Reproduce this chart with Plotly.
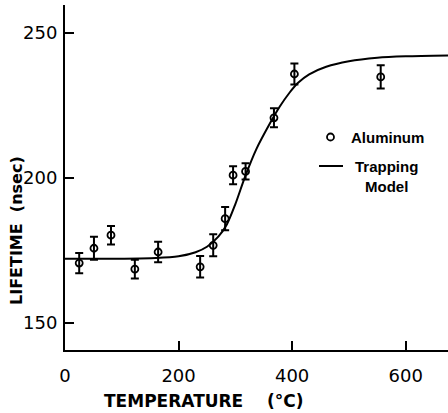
import plotly.graph_objects as go

# Measured data (Aluminum)
temp_c = [25, 51, 81, 123, 164, 238, 261, 282, 296, 318, 368, 404, 556]
lifetime_ns = [170.7, 175.8, 180.3, 168.6, 174.5, 169.4, 176.8, 186.0, 201.0, 202.3, 220.8, 235.9, 234.9]
lifetime_err = [3.5, 4.0, 3.2, 3.2, 3.5, 3.7, 3.8, 4.0, 3.1, 2.8, 3.3, 3.6, 4.0]

# Trapping model curve
model_t = [0, 100, 160, 200, 230, 250, 270, 285, 300, 317, 337, 361, 378, 396, 410, 430, 460, 500, 550, 600, 675]
model_l = [172.2, 172.2, 172.4, 173.0, 174.4, 176.3, 179.8, 184.0, 191.0, 200.4, 210.0, 218.9, 224.6, 229.6,
           232.8, 235.8, 238.4, 240.3, 241.5, 242.0, 242.3]

x_ticks = [0, 200, 400, 600]
y_ticks = [150, 200, 250]

fig = go.Figure()
fig.add_trace(go.Scatter(
    x=model_t, y=model_l, mode="lines",
    line=dict(color="black", width=2, shape="spline", smoothing=0.8),
    showlegend=False, hoverinfo="skip"))
fig.add_trace(go.Scatter(
    x=temp_c, y=lifetime_ns, mode="markers",
    marker=dict(symbol="circle-open", size=7, color="black", line=dict(width=1.8)),
    error_y=dict(type="data", array=lifetime_err, visible=True, color="black",
                 thickness=2, width=4),
    showlegend=False))

font_fam = "DejaVu Sans"
fig.update_layout(
    width=448, height=413,
    margin=dict(l=65, r=0, t=5, b=63),
    paper_bgcolor="white", plot_bgcolor="white",
    xaxis=dict(range=[0, 674.5], tickvals=x_ticks, ticks="inside", ticklen=9, tickwidth=2,
               tickcolor="black", showline=True, linecolor="black", linewidth=2,
               showgrid=False, zeroline=False, ticklabelstandoff=8,
               tickfont=dict(family=font_fam, size=18, color="black")),
    yaxis=dict(range=[140.7, 259.7], tickvals=y_ticks, ticks="inside", ticklen=9, tickwidth=2,
               tickcolor="black", showline=True, linecolor="black", linewidth=2,
               showgrid=False, zeroline=False, ticklabelstandoff=2,
               tickfont=dict(family=font_fam, size=18, color="black")),
    annotations=[
        dict(text="<b>TEMPERATURE\u00a0\u00a0\u00a0\u00a0(°C)</b>", xref="paper", yref="paper",
             x=(203 - 65) / 383, y=-51 / 345, xanchor="center", yanchor="middle",
             showarrow=False, font=dict(family=font_fam, size=17, color="black")),
        dict(text="<b>LIFETIME\u00a0\u00a0(nsec)</b>", xref="paper", yref="paper",
             x=-49 / 383, y=(350 - 231) / 345, xanchor="center", yanchor="middle",
             textangle=-90, showarrow=False,
             font=dict(family=font_fam, size=16, color="black")),
        dict(text="<b>Aluminum</b>", xref="paper", yref="paper",
             x=(349 - 65) / 383, y=(350 - 137) / 345, xanchor="left", yanchor="middle",
             showarrow=False, font=dict(family="Liberation Sans", size=15, color="black")),
        dict(text="<b>Trapping<br>Model</b>", xref="paper", yref="paper",
             x=(386 - 65) / 383, y=(350 - 176) / 345, xanchor="center", yanchor="middle",
             align="center", showarrow=False,
             font=dict(family="Liberation Sans", size=15, color="black")),
    ],
    shapes=[
        dict(type="circle", xref="paper", yref="paper",
             x0=(327 - 65) / 383, x1=(334 - 65) / 383,
             y0=(350 - 140.5) / 345, y1=(350 - 133.5) / 345,
             line=dict(color="black", width=1.8), fillcolor="white"),
        dict(type="line", xref="paper", yref="paper",
             x0=(319 - 65) / 383, x1=(343 - 65) / 383,
             y0=(350 - 166) / 345, y1=(350 - 166) / 345,
             line=dict(color="black", width=2)),
    ],
)

fig.write_html("out.html")
